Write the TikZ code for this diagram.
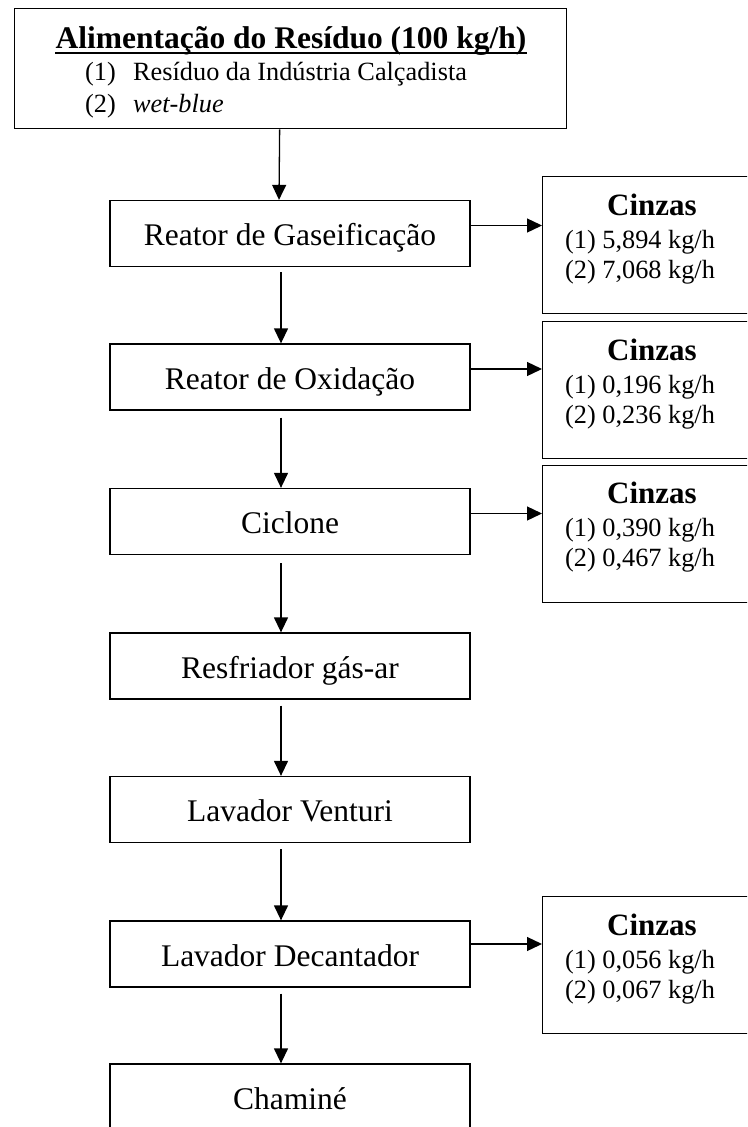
\documentclass[tikz,border=0pt]{standalone}
\usepackage{fontspec}
\setmainfont{Liberation Serif}
\usetikzlibrary{arrows.meta,calc}
\tikzset{
 box/.style={draw, line width=1.3pt, minimum width=360pt, minimum height=66pt, inner sep=0pt, text height=24pt, text depth=0pt, font=\fontsize{31.5}{36}\selectfont},
 ash/.style={draw, line width=1.3pt, minimum width=260pt, minimum height=137pt, anchor=north west, inner sep=0pt},
 arr/.style={line width=1.3pt, -{Triangle[length=15pt,width=14pt]}},
 lbl/.style={inner sep=0pt, anchor=base west, font=\fontsize{26.3}{30}\selectfont},
 ttl/.style={inner sep=0pt, anchor=base, font=\fontsize{31}{36}\selectfont\bfseries},
}
\begin{document}
\begin{tikzpicture}[x=1pt,y=-1pt]
\useasboundingbox (0,0) rectangle (747,1127);
\clip (0,0) rectangle (747,1127);
% feed box
\node[draw, line width=1.3pt, anchor=north west, minimum width=552pt, minimum height=120pt, inner sep=0pt] (feed) at (14,8) {};
\node[ttl, font=\fontsize{31.5}{36}\selectfont\bfseries] (title) at (291,48) {Alimentação do Resíduo (100 kg/h)};
\draw[line width=2.8pt] ($(title.base west)+(0,5)$) -- ($(title.base east)+(0,5)$);
\node[lbl] (n1) at (85,80) {(1)};
\node[lbl] (t1) at (133,80) {Resíduo da Indústria Calçadista};
\node[lbl] (n2) at (85,112) {(2)};
\node[lbl] (t2) at (133,112) {\itshape wet-blue};
% main column
\node[box] (gas) at (290,233.5) {Reator de Gaseificação};
\node[box] (oxi) at (290,377) {Reator de Oxidação};
\node[box] (cic) at (290,521.5) {Ciclone};
\node[box] (res) at (290,666) {Resfriador gás-ar};
\node[box] (ven) at (290,809.5) {Lavador Venturi};
\node[box] (dec) at (290,954) {Lavador Decantador};
\node[box] (cha) at (290,1097) {Chaminé};
% ash boxes
\foreach \nm/\tp/\va/\vb in {a1/176/{5,894}/{7,068}, a2/321/{0,196}/{0,236}, a3/464.5/{0,390}/{0,467}, a4/896/{0,056}/{0,067}}{
  \node[ash] (\nm) at (542,\tp) {};
  \node[ttl] (\nm h) at (652,\tp+39) {Cinzas};
  \node[lbl] (\nm x) at (565,\tp+72) {(1) \va\ kg/h};
  \node[lbl] (\nm y) at (565,\tp+102) {(2) \vb\ kg/h};
}
% vertical arrows
\draw[arr] ([xshift=-11pt]feed.south) -- ([xshift=-11pt]gas.north);
\draw[arr] ([xshift=-9pt,yshift=-5pt]gas.south) -- ([xshift=-9pt]oxi.north);
\draw[arr] ([xshift=-9pt,yshift=-7pt]oxi.south) -- ([xshift=-9pt]cic.north);
\draw[arr] ([xshift=-9pt,yshift=-8pt]cic.south) -- ([xshift=-9pt]res.north);
\draw[arr] ([xshift=-9pt,yshift=-6pt]res.south) -- ([xshift=-9pt]ven.north);
\draw[arr] ([xshift=-9pt,yshift=-6pt]ven.south) -- ([xshift=-9pt]dec.north);
\draw[arr] ([xshift=-9pt,yshift=-6pt]dec.south) -- ([xshift=-9pt]cha.north);
% horizontal arrows
\draw[arr] ([yshift=8pt]gas.east) -- ([yshift=8pt]gas.east -| a1.west);
\draw[arr] ([yshift=8pt]oxi.east) -- ([yshift=8pt]oxi.east -| a2.west);
\draw[arr] ([yshift=8pt]cic.east) -- ([yshift=8pt]cic.east -| a3.west);
\draw[arr] ([yshift=10pt]dec.east) -- ([yshift=10pt]dec.east -| a4.west);
\end{tikzpicture}
\end{document}
